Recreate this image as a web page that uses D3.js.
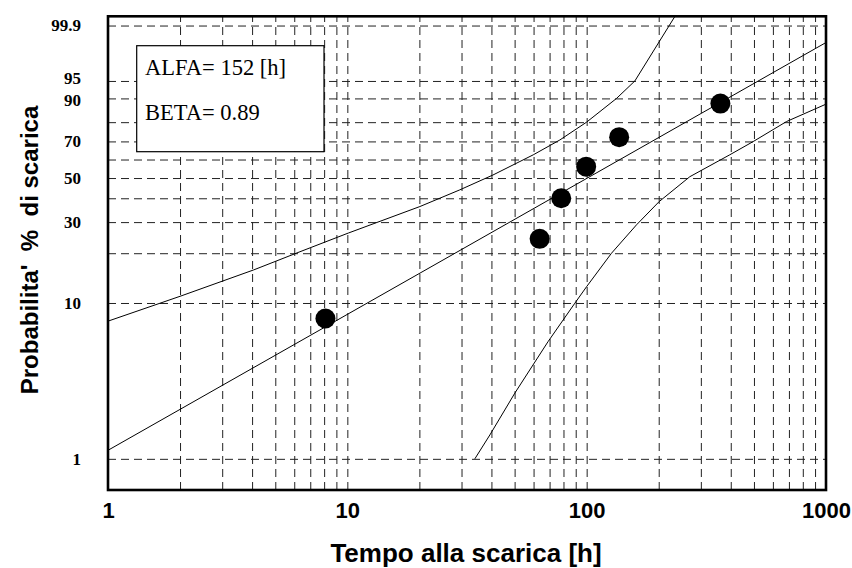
<!DOCTYPE html>
<html>
<head>
<meta charset="utf-8">
<script src="https://cdn.jsdelivr.net/npm/d3@7"></script>
<style>
  html, body { margin: 0; padding: 0; background: #fff; }
  svg { display: block; }
</style>
</head>
<body>
<svg id="chart" width="852" height="568"></svg>
<script>
// Weibull parameters of the fitted line
const ALFA = 152;
const BETA = 0.89;

// Observed failure times [h] and cumulative failure probability [%]
const failTimes = [8.1, 63.6, 78.3, 99.5, 136.7, 362];
const failPct   = [8.0, 24.2, 40.0, 56.1, 72.3, 88.1];

// Upper confidence bound (time [h], probability [%])
const upperTimes = [1, 2.0, 4.05, 6.34, 10.1, 20.1, 29.5, 40.6, 59.8, 77.3, 99.9, 133.3, 159, 248];
const upperPct   = [7.7, 11.0, 15.9, 20.4, 26.1, 36.3, 44.0, 51.6, 62.6, 70.8, 80.0, 90.0, 95.0, 99.99];

// Lower confidence bound (time [h], probability [%])
const lowerTimes = [34.1, 39.4, 50.1, 69.0, 89.3, 99.9, 127, 161.6, 200.9, 269.8, 396, 496, 684, 1000];
const lowerPct   = [1.0, 1.43, 2.67, 5.72, 9.98, 12.6, 20.0, 29.0, 38.5, 50.7, 62.6, 69.9, 80.3, 87.9];

// Range of the fitted line
const fitTimes = [1, 1000];

// Axis ticks
const xTickValues = [1, 10, 100, 1000];
const yTickValues = [1, 10, 30, 50, 70, 90, 95, 99.9];
const yTickLabels = ["1", "10", "30", "50", "70", "90", "95", "99.9"];
const yGridValues = [1, 10, 20, 30, 40, 50, 60, 70, 80, 90, 95, 99.9];

// Weibull probability-paper transform: ln(-ln(1 - F))
const weib = pct => Math.log(-Math.log(1 - pct / 100));

const plot = { left: 108, right: 826, top: 16.3, bottom: 490 };
const plotW = plot.right - plot.left;
const plotH = plot.bottom - plot.top;

const svg = d3.select("#chart");

const x = d3.scaleLog().domain([1, 1000]).range([plot.left, plot.right]);
const y = d3.scaleLinear().domain([-5.07, 2.072]).range([plot.bottom, plot.top]);

// Vertical grid at 2..9 of each decade
const xGridValues = [1, 10, 100].flatMap(d => [2, 3, 4, 5, 6, 7, 8, 9, 10].map(k => k * d)).filter(v => v < 1000);

const gridX = svg.append("g")
  .attr("transform", `translate(0,${plot.bottom})`)
  .call(d3.axisBottom(x).tickValues(xGridValues).tickSize(-plotH).tickFormat(""));
gridX.select(".domain").remove();
gridX.selectAll("line")
  .attr("stroke", "#222").attr("stroke-width", 1).attr("stroke-dasharray", "8,5");

const gridY = svg.append("g")
  .attr("transform", `translate(${plot.left},0)`)
  .call(d3.axisLeft(y).tickValues(yGridValues.map(weib)).tickSize(-plotW).tickFormat(""));
gridY.select(".domain").remove();
gridY.selectAll("line")
  .attr("stroke", "#222").attr("stroke-width", 1).attr("stroke-dasharray", "8,5");

// Clip region for the curves
svg.append("clipPath").attr("id", "plotClip")
  .append("rect")
  .attr("x", plot.left).attr("y", plot.top)
  .attr("width", plotW).attr("height", plotH);

const line = d3.line()
  .x(d => x(d[0]))
  .y(d => y(weib(d[1])));

const curves = svg.append("g").attr("clip-path", "url(#plotClip)");

// Fitted Weibull line: F(t) = 1 - exp(-(t/ALFA)^BETA)
const fitPoints = fitTimes.map(t => [t, 100 * (1 - Math.exp(-Math.pow(t / ALFA, BETA)))]);
curves.append("path")
  .datum(fitPoints)
  .attr("d", line)
  .attr("fill", "none").attr("stroke", "#000").attr("stroke-width", 1);

curves.append("path")
  .datum(upperTimes.map((t, i) => [t, upperPct[i]]))
  .attr("d", line)
  .attr("fill", "none").attr("stroke", "#000").attr("stroke-width", 1);

curves.append("path")
  .datum(lowerTimes.map((t, i) => [t, lowerPct[i]]))
  .attr("d", line)
  .attr("fill", "none").attr("stroke", "#000").attr("stroke-width", 1);

// Data points
svg.append("g")
  .selectAll("circle")
  .data(failTimes.map((t, i) => [t, failPct[i]]))
  .join("circle")
  .attr("cx", d => x(d[0]))
  .attr("cy", d => y(weib(d[1])))
  .attr("r", 10)
  .attr("fill", "#000");

// Plot frame
svg.append("rect")
  .attr("x", plot.left).attr("y", plot.top)
  .attr("width", plotW).attr("height", plotH)
  .attr("fill", "none").attr("stroke", "#000").attr("stroke-width", 2.6);

// Parameter box
const box = svg.append("g");
box.append("rect")
  .attr("x", 136.7).attr("y", 45.7).attr("width", 187.3).attr("height", 106)
  .attr("fill", "#fff").attr("stroke", "#000").attr("stroke-width", 1.2);
box.append("text")
  .attr("x", 145).attr("y", 75)
  .attr("font-family", "'Liberation Serif', 'Times New Roman', serif")
  .attr("font-size", 22.5)
  .text(`ALFA= ${ALFA} [h]`);
box.append("text")
  .attr("x", 145).attr("y", 120)
  .attr("font-family", "'Liberation Serif', 'Times New Roman', serif")
  .attr("font-size", 22.5)
  .text(`BETA= ${BETA}`);

// X axis labels
const xAxis = svg.append("g")
  .attr("transform", `translate(0,${plot.bottom})`)
  .call(d3.axisBottom(x).tickValues(xTickValues).tickSize(0).tickPadding(12).tickFormat(d3.format("d")));
xAxis.select(".domain").remove();
xAxis.selectAll("text")
  .attr("font-family", "'Liberation Sans', Arial, sans-serif")
  .attr("font-weight", "bold")
  .attr("font-size", 22)
  .attr("fill", "#000");

// Y axis labels (the close 95 / 90 pair is nudged apart slightly)
const yAxis = svg.append("g")
  .attr("transform", `translate(${plot.left},0)`)
  .call(d3.axisLeft(y).tickValues(yTickValues.map(weib)).tickSize(0).tickPadding(27)
    .tickFormat((d, i) => yTickLabels[i]));
yAxis.select(".domain").remove();
yAxis.selectAll("text")
  .attr("font-family", "'Liberation Serif', 'Times New Roman', serif")
  .attr("font-weight", "bold")
  .attr("font-size", 17)
  .attr("fill", "#000");
yAxis.selectAll(".tick text")
  .filter(function () { return this.textContent === "95"; })
  .attr("dy", "0.15em");
yAxis.selectAll(".tick text")
  .filter(function () { return this.textContent === "90"; })
  .attr("dy", "0.4em");

// Axis titles
svg.append("text")
  .attr("x", 466).attr("y", 562)
  .attr("text-anchor", "middle")
  .attr("font-family", "'Liberation Sans', Arial, sans-serif")
  .attr("font-weight", "bold")
  .attr("font-size", 26)
  .text("Tempo alla scarica [h]");

svg.append("text")
  .attr("transform", "translate(38,250) rotate(-90)")
  .attr("text-anchor", "middle")
  .attr("font-family", "'Liberation Sans', Arial, sans-serif")
  .attr("font-weight", "bold")
  .attr("font-size", 24)
  .attr("xml:space", "preserve")
  .style("white-space", "pre")
  .text("Probabilita'  %  di scarica");
</script>
</body>
</html>
